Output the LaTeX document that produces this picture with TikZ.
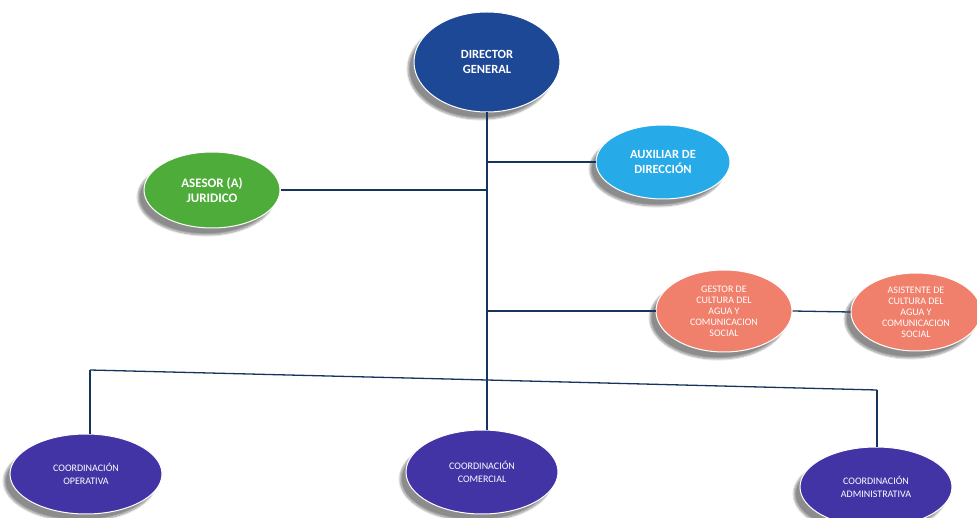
\documentclass[tikz,border=0pt]{standalone}
\usepackage{fontspec}
\setmainfont{Carlito}
\usetikzlibrary{shapes.geometric,shadows.blur}

\definecolor{dirblue}{RGB}{28,72,150}
\definecolor{auxblue}{RGB}{38,170,232}
\definecolor{asegreen}{RGB}{78,172,58}
\definecolor{salmon}{RGB}{240,128,108}
\definecolor{coordblue}{RGB}{66,52,164}
\definecolor{linenavy}{RGB}{22,52,92}

\tikzset{
  puesto/.style={ellipse, draw=white, line width=1pt, inner sep=0pt, align=center,
    text=white, font=\bfseries,
    blur shadow={shadow xshift=-6pt, shadow yshift=-7pt, shadow opacity=45, shadow blur steps=10}},
  enlace/.style={draw=linenavy, line width=1.3pt}
}

\begin{document}
\begin{tikzpicture}[x=1pt,y=-1pt]
\useasboundingbox (0,0) rectangle (977,518);
\node[puesto, fill=dirblue, minimum width=146pt, minimum height=100pt, font=\bfseries\fontsize{12.5}{15}\selectfont] (dir) at (487,62) {DIRECTOR\\GENERAL};
\node[puesto, fill=auxblue, minimum width=134pt, minimum height=74pt, font=\bfseries\fontsize{12.5}{15}\selectfont] (aux) at (663,162) {AUXILIAR DE\\DIRECCIÓN};
\node[puesto, fill=asegreen, minimum width=136pt, minimum height=76pt, font=\bfseries\fontsize{13}{15.5}\selectfont] (ase) at (212,190) {ASESOR (A)\\JURIDICO};
\node[puesto, fill=salmon, minimum width=136pt, minimum height=82pt, font=\fontsize{10}{11}\selectfont] (ges) at (724,311) {GESTOR DE\\CULTURA DEL\\AGUA Y\\COMUNICACION\\SOCIAL};
\node[puesto, fill=salmon, minimum width=130pt, minimum height=78pt, font=\fontsize{10}{11}\selectfont] (asi) at (916,312) {ASISTENTE DE\\CULTURA DEL\\AGUA Y\\COMUNICACION\\SOCIAL};
\node[puesto, fill=coordblue, minimum width=152pt, minimum height=80pt, font=\fontsize{10}{13}\selectfont] (ope) at (86,474) {COORDINACIÓN\\OPERATIVA};
\node[puesto, fill=coordblue, minimum width=152pt, minimum height=84pt, font=\fontsize{10}{13}\selectfont] (com) at (482,472) {COORDINACIÓN\\COMERCIAL};
\node[puesto, fill=coordblue, minimum width=152pt, minimum height=80pt, font=\fontsize{10}{13}\selectfont] (adm) at (876,487) {COORDINACIÓN\\ADMINISTRATIVA};

\coordinate (t1) at (dir.south |- aux.west);
\coordinate (t2) at (dir.south |- ase.east);
\coordinate (t3) at (dir.south |- ges.west);
\coordinate (t4) at (487,380);
\coordinate (bl) at (90,370);
\coordinate (br) at (877,390);

\draw[enlace] (dir.south) -- (t4);
\draw[enlace] (t1) -- (aux.west);
\draw[enlace] (t2) -- (ase.east);
\draw[enlace] (t3) -- (ges.west);
\draw[enlace] (ges.east) -- (asi.west);
\draw[enlace] (bl) -- (t4) -- (br);
\draw[enlace] (bl) -- (ope.north -| bl);
\draw[enlace] (t4) -- (com.north -| t4);
\draw[enlace] (br) -- (adm.north -| br);
\end{tikzpicture}
\end{document}
